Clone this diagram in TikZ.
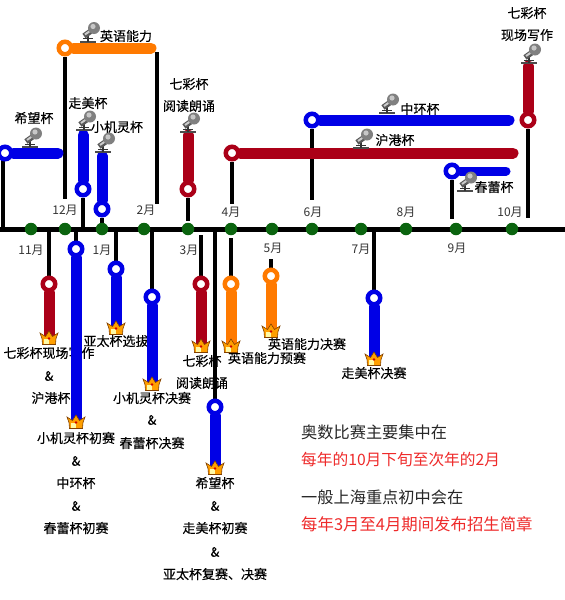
\documentclass[tikz,border=0pt]{standalone}
\usepackage{fontspec}
\setmainfont{Noto Sans CJK SC}
\newfontfamily\lblfont[FakeBold=0.3]{Noto Sans CJK SC}
\pgfdeclarelayer{labels}
\pgfdeclarelayer{wires}
\pgfdeclarelayer{bars}
\pgfsetlayers{labels,wires,bars,main}
\definecolor{bluebar}{HTML}{0000E6}
\definecolor{redbar}{HTML}{AB0018}
\definecolor{orangebar}{HTML}{FF7A00}
\definecolor{dotgreen}{HTML}{0B640F}
\definecolor{notered}{HTML}{EE2A2A}
\tikzset{
  x=1pt,y=-1pt,
  lbl/.style={font=\lblfont\fontsize{13}{13}\selectfont,inner sep=0pt,text=black},
  monthlbl/.style={font=\fontsize{12}{12}\selectfont,inner sep=0pt,text=black!80},
  note/.style={font=\fontsize{16.2}{16}\selectfont,inner sep=0pt,anchor=west,text=black!85},
  notered/.style={note,text=notered},
  wire/.style={line width=4pt,draw=black},
  axisline/.style={line width=5pt,draw=black},
  bar/.style={line width=11pt,line cap=round},
  stopdot/.style={circle,fill=dotgreen,inner sep=0pt,minimum size=12.5pt},
  station/.style={circle,fill=white,line width=4.5pt,inner sep=0pt,minimum size=12.5pt},
  bst/.style={station,draw=bluebar},
  rst/.style={station,draw=redbar},
  ost/.style={station,draw=orangebar},
  mic/.pic={
    \draw[line width=2pt,black!70] (-8,0) -- (8,0);
    \draw[line width=1.5pt,black!80] (0,0) -- (0,-7);
    \draw[line width=1pt,black!80] (-5,-3) -- (5,-3);
    \draw[line width=5.5pt,black!65] (-4,-5.5) -- (3,-10.5);
    \draw[line width=2pt,black!20] (-3,-7) -- (2,-10.5);
    \fill[black!50] (6,-13.5) circle (6);
    \fill[black!22] (5,-15) circle (2.6);
  },
  crown/.pic={
    \fill[draw=black!50!orange,line width=.6pt,fill=orange!75!yellow] (-6.5,6.5) -- (6.5,6.5) -- (7,0.5) -- (9,-5) -- (3.5,-1.5) -- (0,-7) -- (-3.5,-1.5) -- (-9,-5) -- (-7,0.5) -- cycle;
    \fill[white!65!yellow] (-5.5,5.5) rectangle (0,1);
    \fill[red!80!black] (0,0.5) circle (1.3);
  }
}
\begin{document}
\begin{tikzpicture}
\useasboundingbox (0,0) rectangle (565,600);
% axis ends
\coordinate (axisL) at (0,229);
\coordinate (axisR) at (565,229);
% dots
\foreach \n/\x in {d11/31,d12/65,d1/102,d2/144,d3/188,d4/231,d5/272,d6/312,d7/361,d8/406,d9/456,d10/512}
  \node[stopdot] (\n) at (\x,229) {};
% upper stations
\node[bst] (sXW) at (5,153) {};
\node[ost] (sYY) at (65,48) {};
\node[bst] (sZM) at (83,189) {};
\node[bst] (sXJ) at (102,209) {};
\node[rst] (sQD) at (188,189) {};
\node[rst] (sHG) at (232,153) {};
\node[bst] (sZH) at (312,120) {};
\node[bst] (sCL) at (452,171) {};
\node[rst] (sQX) at (528,120) {};
% lower stations
\node[rst] (tQX) at (49,284) {};
\node[bst] (tXJ) at (76,249) {};
\node[bst] (tYT) at (116,269) {};
\node[bst] (tXJF) at (152,297) {};
\node[rst] (tQD) at (201,284) {};
\node[bst] (tXW) at (215,407) {};
\node[ost] (tYY) at (231,284) {};
\node[ost] (tYF) at (271,276) {};
\node[bst] (tZM) at (374,298) {};
% free ends
\coordinate (eXW) at (58,153);
\coordinate (eYY) at (151,48);
\coordinate (eZM) at (83,135);
\coordinate (eXJ) at (102,156);
\coordinate (eQD) at (188,135);
\coordinate (eHG) at (513,153);
\coordinate (eZH) at (509,120);
\coordinate (eCL) at (506,171);
\coordinate (eQX) at (528,66);
\coordinate (fXWa) at (3,155);
\coordinate (fXWb) at (3,229);
\coordinate (fYYa) at (65,199);
\coordinate (fYYb1) at (157,52);
\coordinate (fYYb2) at (157,204);
\coordinate (fQD) at (188,221);
\coordinate (fHG) at (232,204);
\coordinate (fZH) at (312,200);
\coordinate (fCL) at (452,219);
\coordinate (fQX) at (528,218);
\coordinate (gQD) at (201,235);
\coordinate (gYY) at (231,238);
\coordinate (gYF) at (271,259);
% crowns
\foreach \n/\x/\y in {cQX/49/338,cXJ/76/422,cYT/116/328,cXJF/152/384,cQD/201/346,cXW/215/468,cYY/231/346,cYF/271/331,cZM/374/359}{
  \coordinate (\n) at (\x,\y);
  \pic at (\n) {crown};
}
% microphones
\foreach \n/\x/\y in {mXW/30/147,mYY/88/41.5,mZM/84/130,mXJ/103/152,mQD/188/132,mHG/361/148,mZH/387/113,mCL/465/191,mQX/529/63}{
  \coordinate (\n) at (\x,\y);
  \pic at (\n) {mic};
}
\begin{pgfonlayer}{labels}
% months
\node[monthlbl] (l11) at (31,250) {11月};
\node[monthlbl] (l12) at (65,210) {12月};
\node[monthlbl] (l1) at (102,250) {1月};
\node[monthlbl] (l2) at (146,210) {2月};
\node[monthlbl] (l3) at (189,250) {3月};
\node[monthlbl] (l4) at (231,212) {4月};
\node[monthlbl] (l5) at (273,248) {5月};
\node[monthlbl] (l6) at (313,212) {6月};
\node[monthlbl] (l7) at (361,249) {7月};
\node[monthlbl] (l8) at (406,212) {8月};
\node[monthlbl] (l9) at (457,248) {9月};
\node[monthlbl] (l10) at (510,212) {10月};
% upper labels
\node[lbl] (a1) at (34,118) {希望杯};
\node[lbl] (a2) at (126,36) {英语能力};
\node[lbl] (a3) at (88,103) {走美杯};
\node[lbl] (a4) at (117,127) {小机灵杯};
\node[lbl] (a5) at (189,84) {七彩杯};
\node[lbl] (a6) at (189,106) {阅读朗诵};
\node[lbl] (a7) at (420,109) {中环杯};
\node[lbl] (a8) at (395,140) {沪港杯};
\node[lbl] (a9) at (494,187) {春蕾杯};
\node[lbl] (a10) at (527,13) {七彩杯};
\node[lbl] (a11) at (527,35) {现场写作};
% lower labels
\node[lbl] (b1) at (49,353) {七彩杯现场写作};
\node[lbl] (b2) at (49,376) {\&};
\node[lbl] (b3) at (51,398) {沪港杯};
\node[lbl] (b4) at (76,438) {小机灵杯初赛};
\node[lbl] (b5) at (76,461) {\&};
\node[lbl] (b6) at (76,483) {中环杯};
\node[lbl] (b7) at (76,506) {\&};
\node[lbl] (b8) at (76,528) {春蕾杯初赛};
\node[lbl] (b9) at (116,341) {亚太杯选拔};
\node[lbl] (b10) at (152,398) {小机灵杯决赛};
\node[lbl] (b11) at (152,420) {\&};
\node[lbl] (b12) at (152,443) {春蕾杯决赛};
\node[lbl] (b13) at (202,361) {七彩杯};
\node[lbl] (b14) at (202,383) {阅读朗诵};
\node[lbl] (b15) at (267,358) {英语能力预赛};
\node[lbl] (b16) at (307,344) {英语能力决赛};
\node[lbl] (b17) at (215,483) {希望杯};
\node[lbl] (b18) at (215,506) {\&};
\node[lbl] (b19) at (215,528) {走美杯初赛};
\node[lbl] (b20) at (215,552) {\&};
\node[lbl] (b21) at (215,574) {亚太杯复赛、决赛};
\node[lbl] (b22) at (374,373) {走美杯决赛};
% notes
\node[note] (n1) at (301,432) {奥数比赛主要集中在};
\node[notered,font=\fontsize{15.7}{16}\selectfont] (n2) at (301,460) {每年的10月下旬至次年的2月};
\node[note] (n3) at (301,497) {一般上海重点初中会在};
\node[notered,font=\fontsize{16.4}{16}\selectfont] (n4) at (301,524) {每年3月至4月期间发布招生简章};
\end{pgfonlayer}
\begin{pgfonlayer}{wires}
\draw[axisline] (axisL) -- (axisR);
\draw[wire] (fXWa) -- (fXWb);
\draw[wire] (sYY) -- (fYYa);
\draw[wire] (fYYb1) -- (fYYb2);
\draw[wire] (sZM) -- (sZM |- axisL);
\draw[wire] (sXJ) -- (d1);
\draw[wire] (sQD) -- (fQD);
\draw[wire] (sHG) -- (fHG);
\draw[wire] (sZH) -- (fZH);
\draw[wire] (sCL) -- (fCL);
\draw[wire] (sQX) -- (fQX);
\draw[wire] (tQX) -- (tQX |- axisL);
\draw[wire] (tXJ) -- (tXJ |- axisL);
\draw[wire] (tYT) -- (tYT |- axisL);
\draw[wire] (tXJF) -- (tXJF |- axisL);
\draw[wire] (tQD) -- (gQD);
\draw[wire] (tXW) -- (tXW |- axisL);
\draw[wire] (tYY) -- (gYY);
\draw[wire] (tYF) -- (gYF);
\draw[wire] (tZM) -- (tZM |- axisL);
\end{pgfonlayer}
\begin{pgfonlayer}{bars}
\draw[bar,bluebar] (sXW) -- (eXW);
\draw[bar,orangebar] (sYY) -- (eYY);
\draw[bar,bluebar] (sZM) -- (eZM);
\draw[bar,bluebar] (sXJ) -- (eXJ);
\draw[bar,redbar] (sQD) -- (eQD);
\draw[bar,redbar] (sHG) -- (eHG);
\draw[bar,bluebar] (sZH) -- (eZH);
\draw[bar,bluebar,line width=9pt] (sCL) -- (eCL);
\draw[bar,redbar] (sQX) -- (eQX);
\draw[bar,redbar] (tQX) -- (cQX);
\draw[bar,bluebar] (tXJ) -- (cXJ);
\draw[bar,bluebar] (tYT) -- (cYT);
\draw[bar,bluebar] (tXJF) -- (cXJF);
\draw[bar,redbar] (tQD) -- (cQD);
\draw[bar,bluebar] (tXW) -- (cXW);
\draw[bar,orangebar] (tYY) -- (cYY);
\draw[bar,orangebar] (tYF) -- (cYF);
\draw[bar,bluebar] (tZM) -- (cZM);
\end{pgfonlayer}
\end{tikzpicture}
\end{document}
